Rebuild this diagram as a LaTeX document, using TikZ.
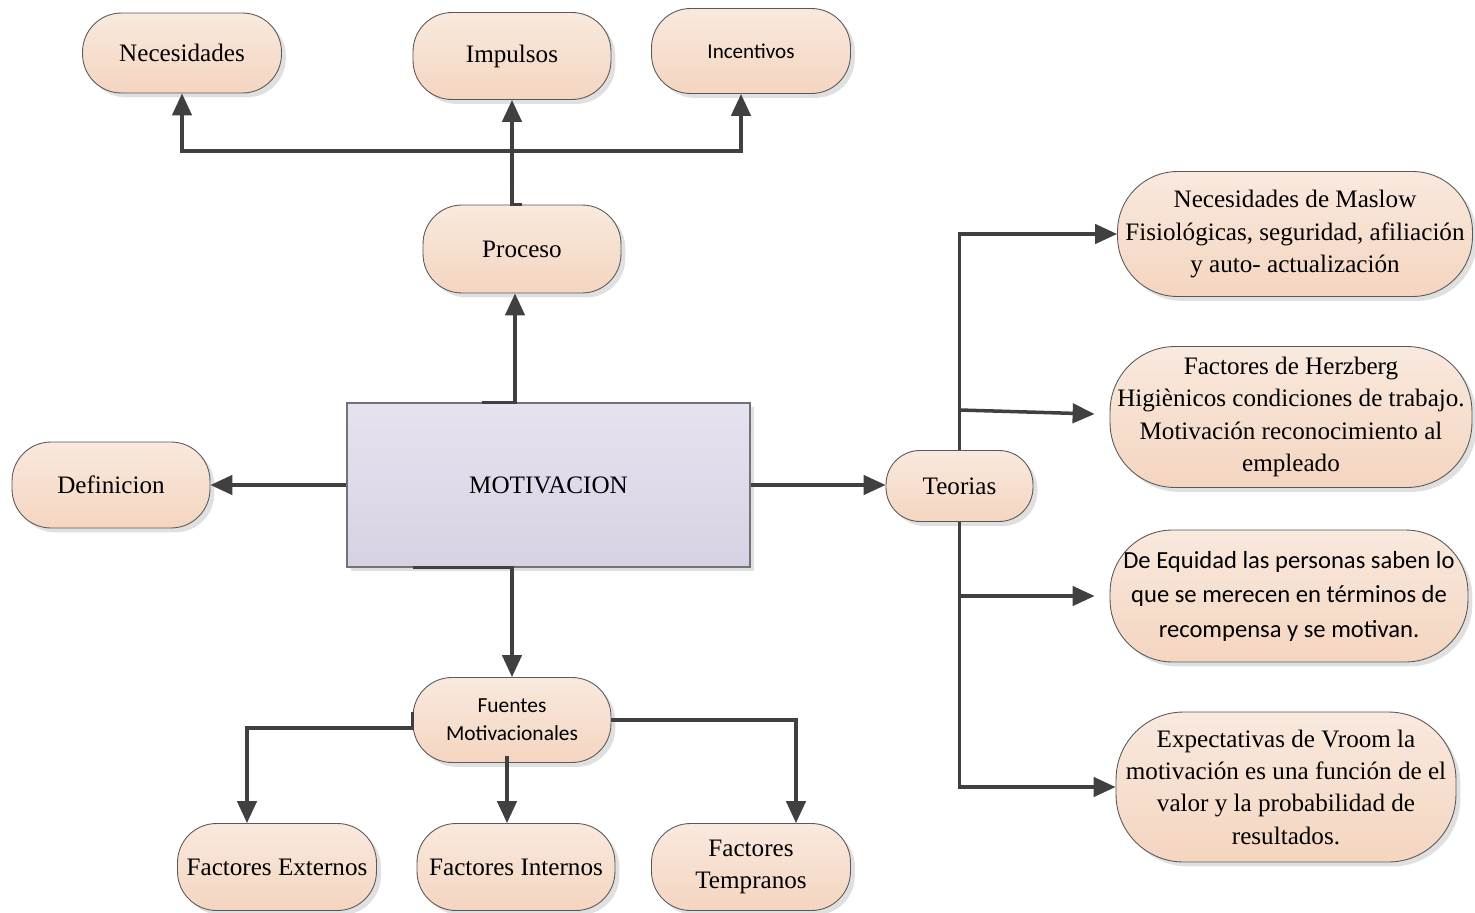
\documentclass[tikz,border=0pt]{standalone}
\usepackage{fontspec}
\setmainfont{Liberation Serif}
\newfontfamily\carlito{Carlito}
\usetikzlibrary{arrows.meta,shadows,calc}
\definecolor{motPeachTop}{HTML}{F9E9DE}
\definecolor{motPeachBot}{HTML}{F4D5C0}
\definecolor{motLilaTop}{HTML}{E7E2EF}
\definecolor{motLilaBot}{HTML}{D8D1E3}
\definecolor{motLine}{HTML}{404040}

\begin{document}
\begin{tikzpicture}[x=0.02cm, y=-0.02cm,
  every node/.style={font=\fontsize{14.3}{18.4}\selectfont, align=center, inner sep=0pt},
  term/.style={draw=black!65, line width=0.5pt, rounded corners=#1, top color=motPeachTop, bottom color=motPeachBot,
    drop shadow={shadow xshift=2.5pt, shadow yshift=-2.5pt, fill=black!30, opacity=0.4}},
  term/.default=0.78cm,
  arr/.style={-{Triangle[length=12.5pt,width=11pt]}, line width=2pt, color=motLine}]
  \useasboundingbox (0,0) rectangle (1475,913);

  \node[term, minimum width=3.98cm, minimum height=1.6cm] (nec) at (182,53) {Necesidades};
  \node[term, minimum width=3.96cm, minimum height=1.74cm] (imp) at (512,56) {Impulsos};
  \node[term, minimum width=3.98cm, minimum height=1.7cm, font=\carlito\fontsize{12}{15}\selectfont] (inc) at (751,51) {Incentivos};
  \node[term, minimum width=3.96cm, minimum height=1.76cm] (proc) at (522,249) {Proceso};

  \node[draw=black!55, line width=0.7pt, top color=motLilaTop, bottom color=motLilaBot,
    drop shadow={shadow xshift=2.5pt, shadow yshift=-2.5pt, fill=black!30, opacity=0.4},
    minimum width=8.06cm, minimum height=3.28cm] (mot) at (548.5,485) {MOTIVACION};
  \node[term, minimum width=3.96cm, minimum height=1.72cm] (defi) at (111,485) {Definicion};
  \node[term=0.68cm, minimum width=2.94cm, minimum height=1.42cm] (teo) at (959.5,486) {Teorias};

  \node[term=1.2cm, minimum width=7.1cm, minimum height=2.5cm] (mas) at (1295,234)
    {Necesidades de Maslow\\Fisiológicas, seguridad, afiliación\\y auto- actualización};
  \node[term=1.3cm, minimum width=7.24cm, minimum height=2.82cm] (her) at (1291,417)
    {Factores de Herzberg\\Higiènicos condiciones de trabajo.\\Motivación reconocimiento al\\empleado};
  \node[term=1.25cm, minimum width=7.16cm, minimum height=2.64cm, font=\carlito\fontsize{14}{19.6}\selectfont] (equ) at (1289,596)
    {De Equidad las personas saben lo\\que se merecen en términos de\\recompensa y se motivan.};
  \node[term=1.35cm, minimum width=6.8cm, minimum height=3.0cm] (expe) at (1286,787)
    {Expectativas de Vroom la\\motivación es una función de el\\valor y la probabilidad de\\resultados.};

  \node[term, minimum width=3.96cm, minimum height=1.7cm, font=\carlito\fontsize{12.2}{15.8}\selectfont] (fue) at (512,720)
    {Fuentes\\Motivacionales};
  \node[term, minimum width=3.98cm, minimum height=1.74cm] (fext) at (277,867) {Factores Externos};
  \node[term, minimum width=3.96cm, minimum height=1.74cm] (fint) at (516,867) {Factores Internos};
  \node[term, minimum width=3.98cm, minimum height=1.74cm] (ftem) at (751,867) {Factores\\Tempranos};

  \coordinate (mup) at ([xshift=-0.67cm]mot.north);
  \coordinate (fbot) at ([xshift=-0.1cm, yshift=0.14cm]fue.south);

  \draw[arr] ([xshift=-1.34cm]mot.north) -- (mup) -- (mup |- proc.south);
  \draw[arr] (proc.north) -- (imp.south |- proc.north) -- (imp.south);
  \draw[arr] (imp.south |- 0,151) -| (nec.south);
  \draw[arr] (imp.south |- 0,151) -| ([xshift=-0.2cm]inc.south);
  \draw[arr] (mot.west) -- (defi.east);
  \draw[arr] (mot.east) -- (mot.east -| teo.west);
  \draw[arr] (teo.north) |- (mas.west);
  \draw[arr] (teo.north |- 0,410) -- ([xshift=-0.3cm, yshift=0.06cm]her.west);
  \draw[arr] (teo.north |- 0,596) -- ([xshift=-0.3cm]equ.west);
  \draw[arr] (teo.south) |- (expe.west);
  \draw[arr] ([xshift=-2.71cm]mot.south) -- (fue.north |- mot.south) -- (fue.north);
  \draw[arr] ([yshift=0.16cm]fue.west) -- ([yshift=-0.16cm]fue.west) -| ([xshift=-0.6cm]fext.north);
  \draw[arr] (fbot) -- (fbot |- fint.north);
  \draw[arr] (fue.east) -| ([xshift=0.9cm]ftem.north);
\end{tikzpicture}
\end{document}
